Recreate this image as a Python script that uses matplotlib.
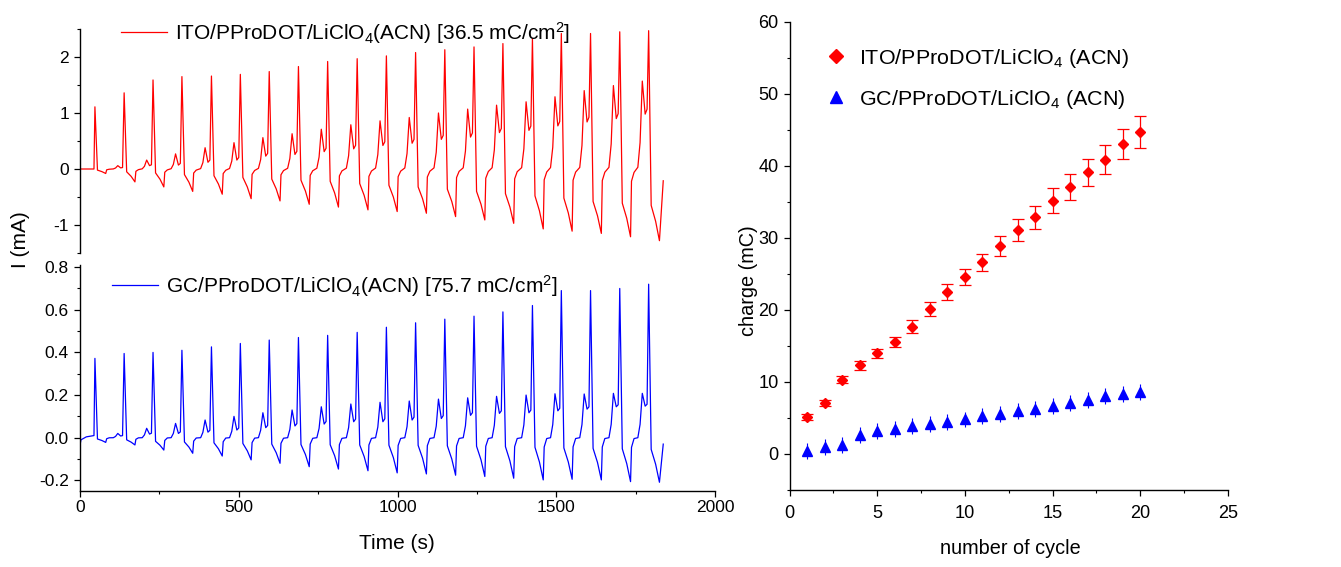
import numpy as np
import matplotlib
matplotlib.use("Agg")
import matplotlib.pyplot as plt
from matplotlib import font_manager as fm
from matplotlib.ticker import MultipleLocator

# ---------------- data ----------------
cycle_peak_time = [47, 139, 230, 321, 414, 505, 596, 688, 780, 873,
                   965, 1057, 1149, 1241, 1332, 1425, 1516, 1608, 1700, 1791]

# ITO film (mA)
ito_peak = [1.11, 1.36, 1.59, 1.65, 1.66, 1.69, 1.74, 1.83, 1.92, 1.97,
            2.02, 2.08, 2.13, 2.18, 2.24, 2.33, 2.42, 2.42, 2.45, 2.47]
ito_prepeak = [np.nan, 0.06, 0.16, 0.27, 0.38, 0.47, 0.56, 0.63, 0.71, 0.79,
               0.86, 0.92, 1.00, 1.07, 1.14, 1.20, 1.29, 1.40, 1.49, 1.57]
ito_valley = [np.nan, 0.02, 0.06, 0.07, 0.12, 0.16, 0.23, 0.26, 0.31, 0.36,
              0.42, 0.46, 0.53, 0.57, 0.65, 0.69, 0.77, 0.84, 0.90, 0.98]
ito_knee = [-0.02, -0.05, -0.07, -0.10, -0.12, -0.15, -0.18, -0.20, -0.22, -0.26,
            -0.29, -0.32, -0.36, -0.40, -0.44, -0.48, -0.52, -0.58, -0.61, -0.65]
ito_min = [-0.08, -0.23, -0.32, -0.40, -0.45, -0.53, -0.57, -0.63, -0.68, -0.73,
           -0.76, -0.79, -0.85, -0.91, -0.97, -1.07, -1.11, -1.15, -1.21, -1.28]
ito_start = ([0, 44], [0.0, 0.0])
ito_end = (1837, -0.21)

# GC film (mA)
gc_peak = [0.372, 0.395, 0.400, 0.410, 0.426, 0.442, 0.458, 0.470, 0.480, 0.494,
           0.518, 0.539, 0.556, 0.570, 0.590, 0.620, 0.690, 0.690, 0.700, 0.720]
gc_prepeak = [np.nan, 0.020, 0.044, 0.067, 0.083, 0.100, 0.117, 0.130, 0.145, 0.158,
              0.166, 0.172, 0.181, 0.187, 0.194, 0.200, 0.206, 0.205, 0.208, 0.208]
gc_valley = [np.nan, 0.008, 0.017, 0.020, 0.026, 0.036, 0.047, 0.055, 0.064, 0.075,
             0.075, 0.083, 0.090, 0.105, 0.114, 0.117, 0.126, 0.134, 0.145, 0.148]
gc_knee = [-0.006, -0.010, -0.017, -0.020, -0.024, -0.027, -0.030, -0.032, -0.033, -0.034,
           -0.035, -0.036, -0.038, -0.040, -0.042, -0.045, -0.048, -0.050, -0.052, -0.055]
gc_min = [-0.022, -0.034, -0.058, -0.073, -0.086, -0.104, -0.120, -0.136, -0.147, -0.155,
          -0.165, -0.170, -0.176, -0.182, -0.190, -0.198, -0.195, -0.198, -0.206, -0.209]
gc_start = ([0, 3, 20, 44], [-0.035, -0.010, 0.004, 0.010])
gc_end = (1837, -0.03)

# charge vs cycle
cycles = list(range(1, 21))
ito_charge = [5.1, 7.1, 10.3, 12.3, 14.0, 15.6, 17.7, 20.1, 22.5, 24.6,
              26.6, 28.9, 31.1, 32.9, 35.2, 37.1, 39.1, 40.9, 43.1, 44.7]
ito_charge_err = [0.4, 0.45, 0.5, 0.6, 0.65, 0.7, 0.85, 0.95, 1.05, 1.1,
                  1.2, 1.4, 1.5, 1.6, 1.7, 1.8, 1.9, 2.0, 2.1, 2.2]
gc_charge = [0.46, 1.0, 1.3, 2.6, 3.2, 3.5, 3.9, 4.2, 4.5, 4.8,
             5.3, 5.6, 6.0, 6.3, 6.7, 7.1, 7.45, 8.05, 8.3, 8.6]
gc_charge_err = [1.1] * 20

ito_trace_label = r"ITO/PProDOT/LiClO$_4$(ACN) [36.5 mC/cm$^2$]"
gc_trace_label = r"GC/PProDOT/LiClO$_4$(ACN) [75.7 mC/cm$^2$]"
ito_charge_label = r"ITO/PProDOT/LiClO$_4$ (ACN)"
gc_charge_label = r"GC/PProDOT/LiClO$_4$ (ACN)"


# ---------------- helpers ----------------
def pick_font(names):
    for n in names:
        try:
            fm.findfont(fm.FontProperties(family=n), fallback_to_default=False)
            return n
        except Exception:
            pass
    return "DejaVu Sans"


SANS = pick_font(["Liberation Sans", "Arial", "DejaVu Sans"])
NARROW = pick_font(["Liberation Sans Narrow", "Arial Narrow", SANS])
IS_NARROW = NARROW != SANS
RSCALE = 1.0 if IS_NARROW else 0.84   # shrink regular font to match narrow widths

plt.rcParams["font.family"] = [SANS, "DejaVu Sans"]
plt.rcParams["mathtext.fontset"] = "custom"
plt.rcParams["mathtext.rm"] = SANS
plt.rcParams["mathtext.it"] = SANS
plt.rcParams["mathtext.bf"] = SANS


def build_trace(pt, peak, pre, valley, knee, mn, start, end,
                step_frac, shoulder_frac, base_frac):
    t = list(start[0])
    y = list(start[1])
    for k in range(len(pt)):
        tk = pt[k]
        if k > 0:
            tp = pt[k - 1]
            t += [tp + 37, tp + 45, tk - 34, tk - 27, tk - 20, tk - 11, tk - 5]
            y += [step_frac * mn[k - 1], shoulder_frac * mn[k - 1], base_frac * pre[k],
                  0.3 * pre[k], pre[k], valley[k],
                  valley[k] + 0.15 * (pre[k] - valley[k])]
        t += [tk, tk + 8, tk + 22, tk + 34]
        y += [peak[k], knee[k], knee[k] + 0.45 * (mn[k] - knee[k]), mn[k]]
    t.append(end[0])
    y.append(end[1])
    return t, y


ito_t, ito_i = build_trace(cycle_peak_time, ito_peak, ito_prepeak, ito_valley, ito_knee,
                           ito_min, ito_start, ito_end, 0.18, 0.05, 0.02)
gc_t, gc_i = build_trace(cycle_peak_time, gc_peak, gc_prepeak, gc_valley, gc_knee,
                         gc_min, gc_start, gc_end, 0.22, 0.02, 0.0)

# ---------------- figure ----------------
W, H = 1341, 567
fig = plt.figure(figsize=(W / 100, H / 100), dpi=100)


def box(x0, y0, x1, y1):
    return [x0 / W, 1 - y1 / H, (x1 - x0) / W, (y1 - y0) / H]


ax_top = fig.add_axes(box(80, 29, 715, 253))
ax_bot = fig.add_axes(box(80, 265, 715, 491))
ax_r = fig.add_axes(box(789.5, 22, 1228, 490))

RED = "#ff0000"
BLUE = "#0000ff"
TICK_FS = 12.5

for ax in (ax_top, ax_bot, ax_r):
    for s in ("top", "right"):
        ax.spines[s].set_visible(False)
    for s in ("left", "bottom"):
        ax.spines[s].set_linewidth(1.0)
    ax.tick_params(which="major", direction="out", length=4.5, width=0.9)
    ax.tick_params(which="minor", direction="out", length=2.5, width=0.8)
    ax.patch.set_alpha(0)

# top trace
l1, = ax_top.plot(ito_t, ito_i, color=RED, lw=0.9, label=ito_trace_label)
ax_top.set_xlim(0, 2000)
ax_top.set_ylim(-1.5, 2.5)
ax_top.spines["bottom"].set_visible(False)
ax_top.tick_params(axis="x", which="both", bottom=False, labelbottom=False)
ax_top.yaxis.set_minor_locator(MultipleLocator(0.5))
ax_top.set_yticks([-1, 0, 1, 2])
ax_top.set_yticklabels(["-1", "0", "1", "2"])
ax_top.tick_params(axis="y", labelsize=TICK_FS)
ax_top.legend(handles=[l1], loc="center left", bbox_to_anchor=(0.0646, 0.982),
              frameon=False, fontsize=15, handlelength=2.2, handletextpad=0.38,
              borderpad=0, borderaxespad=0)

# bottom trace
l2, = ax_bot.plot(gc_t, gc_i, color=BLUE, lw=0.9, label=gc_trace_label)
ax_bot.set_xlim(0, 2000)
ax_bot.set_ylim(-0.25, 0.81)
ax_bot.xaxis.set_major_locator(MultipleLocator(500))
ax_bot.xaxis.set_minor_locator(MultipleLocator(250))
ax_bot.set_yticks([-0.2, 0.0, 0.2, 0.4, 0.6, 0.8])
ax_bot.set_yticklabels(["-0.2", "0.0", "0.2", "0.4", "0.6", "0.8"])
ax_bot.yaxis.set_minor_locator(MultipleLocator(0.1))
ax_bot.tick_params(labelsize=TICK_FS)
ax_bot.tick_params(axis="x", pad=2)
ax_bot.set_xlabel("Time (s)", fontsize=15)
ax_bot.xaxis.set_label_coords(0.499, -0.19)
ax_bot.legend(handles=[l2], loc="center left", bbox_to_anchor=(0.0504, 0.907),
              frameon=False, fontsize=15, handlelength=2.2, handletextpad=0.38,
              borderpad=0, borderaxespad=0)

fig.text(20 / W, 1 - 240 / H, "I (mA)", rotation=90, ha="center", va="center", fontsize=15)

# right panel
ax_r.errorbar(cycles, ito_charge, yerr=ito_charge_err, fmt="none", ecolor=RED,
              elinewidth=0.9, capsize=4, capthick=0.9, zorder=2)
ax_r.errorbar(cycles, gc_charge, yerr=gc_charge_err, fmt="none", ecolor=BLUE,
              elinewidth=0.8, capsize=0, zorder=2)
m1, = ax_r.plot(cycles, ito_charge, ls="none", marker="D", ms=5.6, color=RED,
                label=ito_charge_label, zorder=3)
m2, = ax_r.plot(cycles, gc_charge, ls="none", marker="^", ms=7.2, color=BLUE,
                label=gc_charge_label, zorder=3)
ax_r.set_xlim(0, 25)
ax_r.set_ylim(-5, 60)
ax_r.xaxis.set_major_locator(MultipleLocator(5))
ax_r.xaxis.set_minor_locator(MultipleLocator(2.5))
ax_r.yaxis.set_minor_locator(MultipleLocator(5))
ax_r.set_yticks([0, 10, 20, 30, 40, 50, 60])
ax_r.tick_params(axis="x", pad=6)
for lab in ax_r.get_xticklabels() + ax_r.get_yticklabels():
    lab.set_fontfamily(NARROW)
    lab.set_fontsize(15.5 * RSCALE)
ax_r.set_ylabel("charge (mC)", fontsize=17 * RSCALE, fontfamily=NARROW)
ax_r.yaxis.set_label_coords(-0.072, 0.447)
ax_r.set_xlabel("number of cycle", fontsize=17 * RSCALE, fontfamily=NARROW)
ax_r.xaxis.set_label_coords(0.503, -0.105)
ax_r.legend(handles=[m1, m2], loc="center left", bbox_to_anchor=(0.0832, 0.879),
            frameon=False, prop={"family": NARROW, "size": 18.4 * RSCALE},
            handlelength=0.8 / RSCALE, handletextpad=0.49 / RSCALE,
            labelspacing=0.3 + (0.55 if not IS_NARROW else 0.0),
            borderpad=0, borderaxespad=0, markerscale=1.2, numpoints=1)

fig.savefig("out.png", dpi=100)
